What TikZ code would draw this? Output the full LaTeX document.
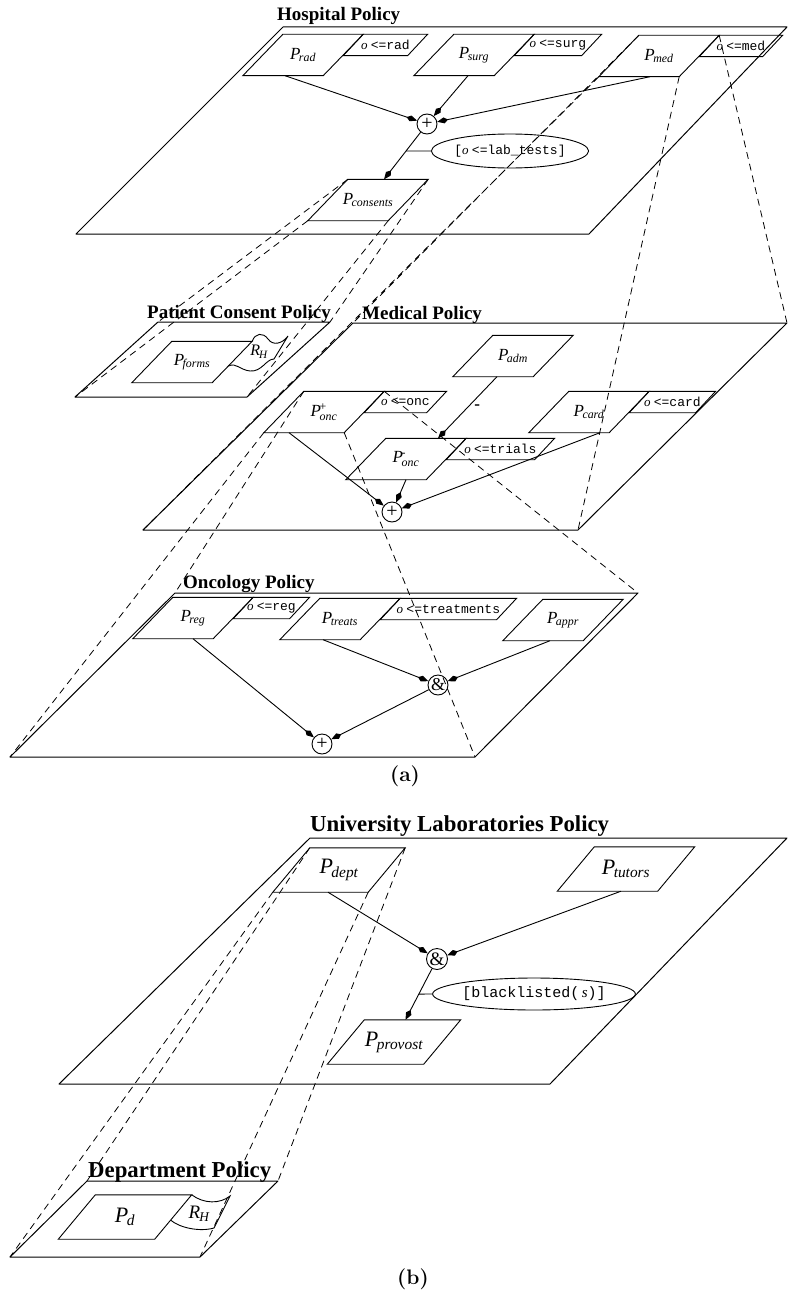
\documentclass[tikz,border=0pt]{standalone}
\usepackage{fontspec}
\usepackage{amsmath}
\newfontfamily\tms{Liberation Serif}
\newfontfamily\cour{Liberation Mono}
\usetikzlibrary{shapes.geometric, arrows.meta, positioning, calc}
\newcommand{\pn}[1]{\textit{P}\kern-1.5pt$_{\text{\itshape #1}}$}
\newcommand{\pnx}[2]{\textit{P}\kern-1.5pt$^{\text{#1}}_{\text{\itshape #2}}$}
\newcommand{\cnd}[1]{\textit{o}\ {\cour #1}}
\newcommand{\rh}{\textit{R}\kern-1pt$_{\text{\itshape H}}$}
\newcommand{\slantframe}[1]{\pgfextra{\edef\pbn{\tikzlastnode}\draw[line width=0.9pt]
  ([xshift=-#1]\pbn.south west) coordinate (\pbn-bl)
  -- ([xshift=#1]\pbn.north west) coordinate (\pbn-tl)
  -- ([xshift=#1]\pbn.north east) coordinate (\pbn-tr)
  -- ([xshift=-#1]\pbn.south east) coordinate (\pbn-br) -- cycle;}}

\begin{document}
\begin{tikzpicture}[x=1pt, y=-1pt,
  plane/.style={line width=1pt, line join=round},
  pbox/.style={rectangle, inner sep=0pt, minimum width=80pt, minimum height=41pt,
    font=\tms\fontsize{17}{17}\selectfont, append after command={\slantframe{20pt}}},
  pboxb/.style={rectangle, inner sep=0pt, minimum width=#1, minimum height=44pt,
    font=\tms\fontsize{22}{22}\selectfont, append after command={\slantframe{18.5pt}}},
  pboxb/.default=96pt,
  cbox/.style={rectangle, inner sep=0pt, minimum width=#1, minimum height=21pt,
    anchor=north west, xshift=-10pt, font=\tms\fontsize{13}{13}\selectfont,
    append after command={\slantframe{10pt}}},
  opnode/.style={circle, draw, line width=0.9pt, inner sep=0pt, minimum size=20pt,
    font=\tms\fontsize{20}{20}\selectfont},
  cond/.style={ellipse, draw, line width=0.9pt, inner sep=0pt},
  ttl/.style={anchor=base west, inner sep=0pt, font=\tms\bfseries\fontsize{19}{19}\selectfont},
  ttlb/.style={ttl, font=\tms\bfseries\fontsize{22.8}{22.8}\selectfont},
  arr/.style={line width=0.9pt, -{Kite[length=11pt,width=6pt,inset=4pt]}},
  proj/.style={line width=0.8pt, dash pattern=on 7pt off 5pt},
  flap/.style={line width=0.9pt},
  capt/.style={font=\bfseries\fontsize{21}{21}\selectfont},
]
\useasboundingbox (0,0) rectangle (788,1295);

% (a) hospital
\coordinate (h0) at (76,234);
\coordinate (h1) at (283,27);
\coordinate (h2) at (787,27);
\coordinate (h3) at (589,234);
\draw[plane] (h0) -- (h1) -- (h2) -- (h3) -- cycle;
\node[ttl] (hosptitle) at (277,21) {Hospital Policy};
\node[pbox] (rad) at (303,55) {\pn{rad}};
\node[cbox=64pt] (radc) at (rad-tr) {\cnd{<=rad}};
\node[pbox] (surg) at (474,55) {\pn{surg}};
\node[cbox=67pt] (surgc) at (surg-tr) {\cnd{<=surg}};
\node[pbox] (med) at (659,56) {\pn{med}};
\node[cbox=63pt] (medc) at (med-tr) {\cnd{<=med}};
\node[opnode] (hplus) at (427,124) {+};
\node[pbox] (consents) at (368,200) {\pn{consents}};
\node[cond, minimum width=123pt, minimum height=34pt, font=\tms\fontsize{13}{13}\selectfont]
  (labc) at (510,151) {{\cour[}\cnd{<=lab\_tests]}};

\draw[arr] ([xshift=-18pt]rad.south) -- (hplus);
\draw[arr] ([xshift=-6pt]surg.south) -- (hplus);
\draw[arr] ([xshift=-9pt]med.south) -- (hplus);
\draw[arr] (hplus) -- (consents);
\draw[line width=0.9pt] (labc.west) -- (intersection of hplus--consents and labc.west--labc.east);

% patient consent
\coordinate (p0) at (75,397);
\coordinate (p1) at (158,322);
\coordinate (p2) at (330,322);
\coordinate (p3) at (247,397);
\draw[plane] (p0) -- (p1) -- (p2) -- (p3) -- cycle;
\node[ttl] (pattitle) at (147,318) {Patient Consent Policy};
\node[pbox] (forms) at (192,362) {\pn{forms}};
\coordinate (fa) at ($(forms-tr)!0.6!(forms-br)$);
\draw[flap] (forms-tr) .. controls (255,333) and (263,332) .. (268,339)
  .. controls (273,346) and (282,344) .. (288,336) -- (274,359)
  .. controls (266,359) and (262,372) .. (250,371) .. controls (240,370) and (236,362) .. (fa);
\node[font=\tms\fontsize{16}{16}\selectfont] (rhp) at (259,352) {\rh};

% medical
\coordinate (m0) at (143,530);
\coordinate (m1) at (353,323);
\coordinate (m2) at (787,323);
\coordinate (m3) at (578,530);
\draw[plane] (m0) -- (m1) -- (m2) -- (m3) -- cycle;
\node[ttl] (medtitle) at (362,319) {Medical Policy};
\node[pbox] (adm) at (513,356) {\pn{adm}};
\node[pbox] (oncp) at (324,412) {\pnx{+}{onc}};
\node[cbox=62pt] (oncpc) at (oncp-tr) {\cnd{<=onc}};
\node[pbox] (oncm) at (406,459) {\pnx{-}{onc}};
\node[cbox=88pt] (oncmc) at (oncm-tr) {\cnd{<=trials}};
\node[pbox] (card) at (589,412) {\pn{card}};
\node[cbox=66pt] (cardc) at (card-tr) {\cnd{<=card}};
\node[opnode] (mplus) at (392,512) {+};

\draw[arr] ([xshift=-16pt]adm.south) -- ([xshift=32pt]oncm.north)
  node[midway, right=3pt, font=\tms\bfseries\fontsize{17}{17}\selectfont] (minus) {-};
\draw[arr] ([xshift=-35pt]oncp.south) -- (mplus);
\draw[arr] (oncm.south) -- (mplus);
\draw[arr] ([xshift=11pt]card.south) -- (mplus);

% oncology
\coordinate (o0) at (10,757);
\coordinate (o1) at (175,593);
\coordinate (o2) at (638,593);
\coordinate (o3) at (475,757);
\draw[plane] (o0) -- (o1) -- (o2) -- (o3) -- cycle;
\node[ttl] (onctitle) at (183,588) {Oncology Policy};
\node[pbox] (reg) at (193,618) {\pn{reg}};
\node[cbox=56pt] (regc) at (reg-tr) {\cnd{<=reg}};
\node[pbox] (treats) at (340,619) {\pn{treats}};
\node[cbox=116pt] (treatsc) at (treats-tr) {\cnd{<=treatments}};
\node[pbox] (appr) at (563,620) {\pn{appr}};
\node[opnode, font=\tms\fontsize{18}{18}\selectfont] (oand) at (438,685) {\&};
\node[opnode] (oplus) at (322,744) {+};

\draw[arr] (reg.south) -- (oplus);
\draw[arr] ([xshift=-17pt]treats.south) -- (oand);
\draw[arr] ([xshift=-13pt]appr.south) -- (oand);
\draw[arr] (oand) -- (oplus);

\draw[proj] (consents-tl) -- (p1) (consents-bl) -- (p0)
  (consents-tr) -- (p2) (consents-br) -- (p3);
\draw[proj] (med-tl) -- (m1) (med-bl) -- (m0) (med-tr) -- (m2) (med-br) -- (m3);
\draw[proj] (oncp-tl) -- (o1) (oncp-bl) -- (o0) (oncp-tr) -- (o2) (oncp-br) -- (o3);

\node[capt] (capa) at (405,776) {(a)};

% (b) university
\coordinate (u0) at (59,1084);
\coordinate (u1) at (310,838);
\coordinate (u2) at (787,838);
\coordinate (u3) at (550,1084);
\draw[plane] (u0) -- (u1) -- (u2) -- (u3) -- cycle;
\node[ttlb] (unititle) at (310,831) {University Laboratories Policy};
\node[pboxb=95pt] (dept) at (339,870) {\pn{dept}};
\node[pboxb=100pt] (tutors) at (626,869) {\pn{tutors}};
\node[opnode, minimum size=21pt, font=\tms\fontsize{19}{19}\selectfont] (uand) at (437,959) {\&};
\node[pboxb] (provost) at (394,1042) {\pn{provost}};
\node[cond, minimum width=174pt, minimum height=32pt, font=\tms\fontsize{15}{15}\selectfont]
  (blk) at (534,994) {{\cour[blacklisted(}\,\textit{s}{\cour)]}};

\draw[arr] ([xshift=-11pt]dept.south) -- (uand);
\draw[arr] ([xshift=-5pt]tutors.south) -- (uand);
\draw[arr] (uand) -- (provost);
\draw[line width=0.9pt] (blk.west) -- (intersection of uand--provost and blk.west--blk.east);

% department
\coordinate (d0) at (10,1257);
\coordinate (d1) at (87,1181);
\coordinate (d2) at (278,1181);
\coordinate (d3) at (200,1257);
\draw[plane] (d0) -- (d1) -- (d2) -- (d3) -- cycle;
\node[ttlb] (deptitle) at (88,1177) {Department Policy};
\node[pboxb] (pd) at (125,1217) {\pn{d}};
\coordinate (db) at ($(pd-tr)!0.57!(pd-br)$);
\draw[flap] (pd-tr) .. controls (204,1204) and (220,1204) .. (230,1196)
  -- (214,1228) .. controls (200,1232) and (180,1228) .. (db);
\node[font=\tms\fontsize{19}{19}\selectfont] (rhd) at (199,1214) {\rh};

\draw[proj] (dept-tl) -- (d1) (dept-bl) -- (d0) (dept-tr) -- (d2) (dept-br) -- (d3);

\node[capt] (capb) at (413,1279) {(b)};
\end{tikzpicture}
\end{document}
